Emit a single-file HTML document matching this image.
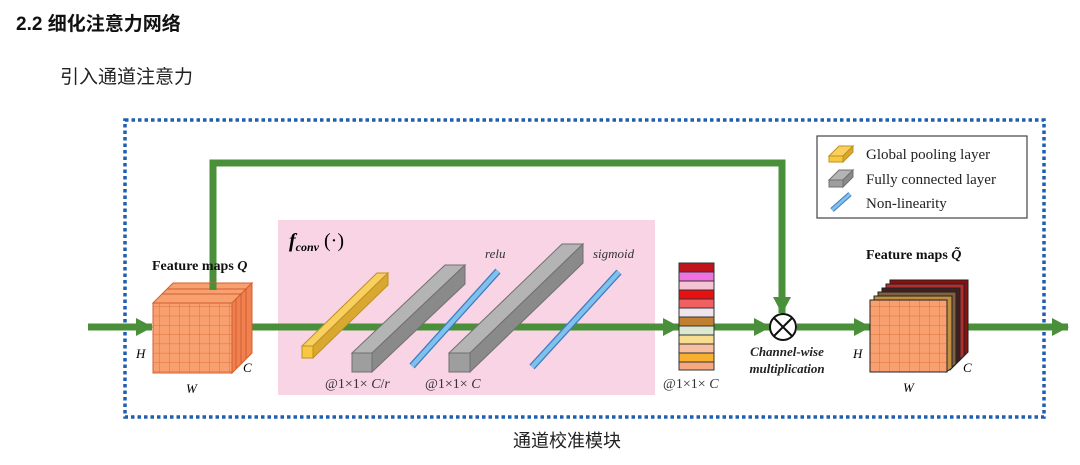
<!DOCTYPE html>
<html><head><meta charset="utf-8"><style>
body{margin:0;background:#fff;width:1080px;height:465px;overflow:hidden}
svg{display:block}
.s{font-family:"Liberation Serif",serif}
</style></head><body>
<svg width="1080" height="465" xmlns="http://www.w3.org/2000/svg">
<defs>
<marker id="ah" markerWidth="17" markerHeight="18" refX="16" refY="9" orient="auto" markerUnits="userSpaceOnUse"><path d="M0,0 L17,9 L0,18 Z" fill="#4a8f3a"/></marker>
<pattern id="grid" width="10" height="9.3" patternUnits="userSpaceOnUse"><rect width="10" height="9.3" fill="#f8a070"/><path d="M10,0V9.3M0,9.3H10" stroke="#e0703a" stroke-width="1"/></pattern>
</defs>
<text x="16" y="30" font-family="'Liberation Sans','Noto Sans CJK SC',sans-serif" font-size="19" font-weight="bold" fill="#111">2.2 细化注意力网络</text>
<text x="60" y="83" font-family="'Liberation Sans','Noto Sans CJK SC',sans-serif" font-size="19" fill="#222">引入通道注意力</text>

<rect x="125" y="120" width="919" height="297" fill="none" stroke="#1f5fb0" stroke-width="3.5" stroke-dasharray="3.5,3"/>
<rect x="278" y="220" width="377" height="175" fill="#f8d4e4"/>

<g stroke="#4a8f3a" stroke-width="7" fill="none">
<line x1="88" y1="327" x2="152" y2="327" marker-end="url(#ah)"/>
<line x1="232" y1="327" x2="679" y2="327" marker-end="url(#ah)"/>
<line x1="714" y1="327" x2="770" y2="327" marker-end="url(#ah)"/>
<line x1="797" y1="327" x2="870" y2="327" marker-end="url(#ah)"/>
<line x1="968" y1="327" x2="1068" y2="327" marker-end="url(#ah)"/>
<polyline points="213,290 213,163 782,163 782,313" marker-end="url(#ah)"/>
</g>

<g stroke="#d06030" stroke-width="1">
<polygon points="153,303 173,283 252,283 232,303" fill="#f8a070"/>
<polygon points="232,303 252,283 252,353 232,373" fill="#f08050"/>
<path d="M162,294H242M167,289H247M236,298V368M241,293V363M246,288V358" fill="none"/>
<rect x="153" y="303" width="79" height="70" fill="url(#grid)"/>
</g>
<line x1="213" y1="283" x2="213" y2="290" stroke="#4a8f3a" stroke-width="7"/>
<text x="152" y="270" class="s" font-size="14" font-weight="bold" fill="#111">Feature maps <tspan font-style="italic">Q</tspan></text>
<text x="136" y="358" class="s" font-size="13" font-style="italic">H</text>
<text x="243" y="372" class="s" font-size="13" font-style="italic">C</text>
<text x="186" y="393" class="s" font-size="13" font-style="italic">W</text>

<text x="289" y="247" class="s" font-size="20" font-weight="bold" font-style="italic">f<tspan font-size="12" dy="4">conv</tspan><tspan dy="-4" font-style="normal" font-weight="normal"> (·)</tspan></text>
<text x="485" y="258" class="s" font-size="13" font-style="italic" fill="#333">relu</text>
<text x="593" y="258" class="s" font-size="13" font-style="italic" fill="#333">sigmoid</text>

<g stroke="#c09020" stroke-width="1">
<polygon points="302,346 377,273 388,273 313,346" fill="#f8d060"/>
<polygon points="313,346 388,273 388,285 313,358" fill="#d8a830"/>
<rect x="302" y="346" width="11" height="12" fill="#f8c840"/>
</g>
<g stroke="#707070" stroke-width="1">
<polygon points="352,353 445,265 465,265 372,353" fill="#b4b4b4"/>
<polygon points="372,353 465,265 465,284 372,372" fill="#8a8a8a"/>
<rect x="352" y="353" width="20" height="19" fill="#9e9e9e"/>
</g>
<line x1="412" y1="366" x2="498" y2="271" stroke="#3f7cc0" stroke-width="7"/>
<line x1="412" y1="366" x2="498" y2="271" stroke="#80c0ec" stroke-width="4.5"/>
<g stroke="#707070" stroke-width="1">
<polygon points="449,353 562,244 583,244 470,353" fill="#b4b4b4"/>
<polygon points="470,353 583,244 583,263 470,372" fill="#8a8a8a"/>
<rect x="449" y="353" width="21" height="19" fill="#9e9e9e"/>
</g>
<line x1="532" y1="367" x2="619" y2="272" stroke="#3f7cc0" stroke-width="7"/>
<line x1="532" y1="367" x2="619" y2="272" stroke="#80c0ec" stroke-width="4.5"/>
<text x="325" y="388" class="s" font-size="14" fill="#333">@1×1× <tspan font-style="italic">C</tspan>/<tspan font-style="italic">r</tspan></text>
<text x="425" y="388" class="s" font-size="14" fill="#333">@1×1× <tspan font-style="italic">C</tspan></text>

<g stroke="#333" stroke-width="1">
<rect x="679" y="263" width="35" height="9" fill="#c0141c"/>
<rect x="679" y="272" width="35" height="9" fill="#f070e0"/>
<rect x="679" y="281" width="35" height="9" fill="#f4c4d4"/>
<rect x="679" y="290" width="35" height="9" fill="#e81010"/>
<rect x="679" y="299" width="35" height="9" fill="#f06060"/>
<rect x="679" y="308" width="35" height="9" fill="#f0e4ec"/>
<rect x="679" y="317" width="35" height="9" fill="#c08030"/>
<rect x="679" y="326" width="35" height="9" fill="#dce8d0"/>
<rect x="679" y="335" width="35" height="9" fill="#f8dc90"/>
<rect x="679" y="344" width="35" height="9" fill="#f8c0a0"/>
<rect x="679" y="353" width="35" height="9" fill="#f8b030"/>
<rect x="679" y="362" width="35" height="8" fill="#f8a880"/>
</g>
<text x="663" y="388" class="s" font-size="14" fill="#333">@1×1× <tspan font-style="italic">C</tspan></text>

<circle cx="783" cy="327" r="13" fill="#fff" stroke="#111" stroke-width="2"/>
<path d="M774,318L792,336M792,318L774,336" stroke="#111" stroke-width="2"/>
<text x="787" y="356" class="s" font-size="13" font-weight="bold" font-style="italic" text-anchor="middle" fill="#222">Channel-wise</text>
<text x="787" y="373" class="s" font-size="13" font-weight="bold" font-style="italic" text-anchor="middle" fill="#222">multiplication</text>

<g stroke="#222" stroke-width="1">
<polygon points="890,280 968,280 968,352 950,370 890,300" fill="#8a1010"/>
<polygon points="886,284 964,284 964,356 946,372 886,304" fill="#b03030"/>
<polygon points="882,288 960,288 960,360 946,372 882,304" fill="#402020"/>
<polygon points="878,292 956,292 956,364 946,372 878,304" fill="#806040"/>
<polygon points="874,296 952,296 952,368 946,372 874,304" fill="#c09040"/>
<rect x="870" y="300" width="77" height="72" fill="url(#grid)"/>
</g>
<text x="866" y="259" class="s" font-size="14" font-weight="bold" fill="#111">Feature maps <tspan font-style="italic">Q̃</tspan></text>
<text x="853" y="358" class="s" font-size="13" font-style="italic">H</text>
<text x="963" y="372" class="s" font-size="13" font-style="italic">C</text>
<text x="903" y="392" class="s" font-size="13" font-style="italic">W</text>

<rect x="817" y="136" width="210" height="82" fill="#fff" stroke="#444" stroke-width="1.2"/>
<g stroke-width="1">
<polygon points="829,156 839,146 853,146 843,156" fill="#f8d060" stroke="#c09020"/>
<polygon points="843,156 853,146 853,152 843,162" fill="#d8a830" stroke="#c09020"/>
<rect x="829" y="156" width="14" height="6" fill="#f8c840" stroke="#c09020"/>
<polygon points="829,180 839,170 853,170 843,180" fill="#b4b4b4" stroke="#707070"/>
<polygon points="843,180 853,170 853,177 843,187" fill="#8a8a8a" stroke="#707070"/>
<rect x="829" y="180" width="14" height="7" fill="#9e9e9e" stroke="#707070"/>
</g>
<line x1="832" y1="210" x2="850" y2="194" stroke="#3f7cc0" stroke-width="5"/>
<line x1="832" y1="210" x2="850" y2="194" stroke="#80c0ec" stroke-width="3"/>
<text x="866" y="159" class="s" font-size="15" fill="#222">Global pooling layer</text>
<text x="866" y="184" class="s" font-size="15" fill="#222">Fully connected layer</text>
<text x="866" y="208" class="s" font-size="15" fill="#222">Non-linearity</text>

<text x="567" y="447" text-anchor="middle" font-family="'Liberation Sans','Noto Sans CJK SC',sans-serif" font-size="18" fill="#222">通道校准模块</text>
</svg>
</body></html>
